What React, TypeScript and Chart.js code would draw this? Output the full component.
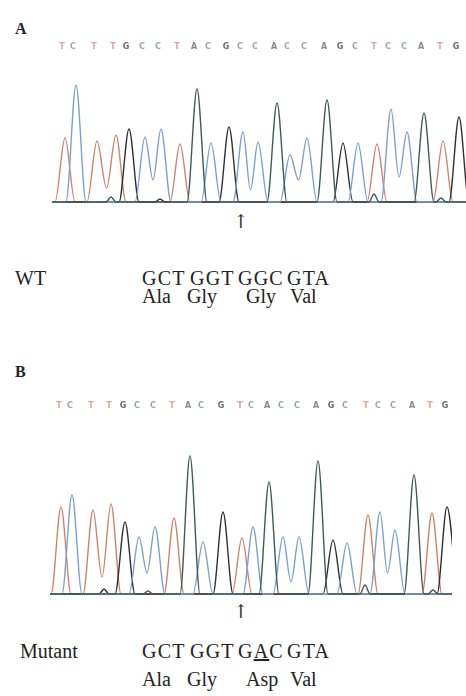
import React, { useEffect, useRef } from "react";
import { Chart, registerables } from "chart.js";

Chart.register(...registerables);

// ---------- Panel A (wild type) ----------
const seqA = ["T","C","T","T","G","C","C","T","A","C","G","C","C","A","C","C","A","G","C","T","C","C","A","T","G"];
const scanA = [65,76,97,116,129,145,161,180,197,211,229,243,258,277,290,307,327,343,358,377,391,407,424,443,459];
const peakA = [64,117,61,67,73,65,73,58,113,59,75,70,60,99,47,64,102,59,59,58,93,70,89,61,85];
const valleyGapA = [2,5,11,14,20];
const valleyHA = [14,22,12,22,25];
const bumpBaseA = ["A","A","A","G"];
const bumpScanA = [111,374,441,160];
const bumpHA = [5,8,4,3];

// ---------- Panel B (mutant) ----------
const seqB = ["T","C","T","T","G","C","C","T","A","C","G","T","C","A","C","C","A","G","C","T","C","C","A","T","G"];
const scanB = [61,72,93,111,125,139,155,174,190,203,223,242,253,269,283,299,318,333,347,368,380,395,414,432,447];
const peakB = [87,99,84,90,72,57,67,76,138,52,82,56,67,112,57,57,133,54,51,79,82,64,119,81,87];
const valleyGapB = [2,5,14,20];
const valleyHB = [17,21,12,21];
const bumpBaseB = ["A","G","A","A"];
const bumpScanB = [365,104,433,148];
const bumpHB = [9,5,4,3];

// ---------- Text ----------
const codonsWT = ["GCT","GGT","GGC","GTA"];
const aminoWT = ["Ala","Gly","Gly","Val"];
const codonsMut = ["GCT","GGT","GAC","GTA"];
const aminoMut = ["Ala","Gly","Asp","Val"];

const BASES = ["A","C","G","T"];
const TRACE_COLOR: Record<string, string> = { A: "#3f5c54", C: "#7d9fd2", G: "#2e2e36", T: "#d0826a" };
const LETTER_COLOR: Record<string, string> = { A: "#8a8a8a", C: "#9aa3bb", G: "#6a6a6a", T: "#dba597" };

type Pt = { x: number; y: number };

function buildTrace(
  base: string, seq: string[], scan: number[], peak: number[],
  gaps: number[], valleys: number[],
  bBase: string[], bScan: number[], bH: number[],
  start: number, end: number
): Pt[] {
  const hw = 10;
  const feats: { x: number; h: number; i: number; w: number }[] = [];
  seq.forEach((b, i) => { if (b === base) feats.push({ x: scan[i], h: peak[i], i, w: hw }); });
  bBase.forEach((b, j) => { if (b === base) feats.push({ x: bScan[j], h: bH[j], i: -1, w: 5 }); });
  feats.sort((a, b) => a.x - b.x);
  const pts: Pt[] = [{ x: start, y: 0 }];
  const joined = (a: any, b: any) => a && b && a.i >= 0 && b.i === a.i + 1 && gaps.includes(a.i);
  feats.forEach((f, k) => {
    const prev = feats[k - 1];
    const next = feats[k + 1];
    if (joined(prev, f)) {
      pts.push({ x: (prev.x + f.x) / 2, y: valleys[gaps.indexOf(prev.i)] });
    } else {
      const lx = Math.max(f.x - f.w, pts[pts.length - 1].x + 0.5);
      pts.push({ x: lx, y: 0 });
    }
    pts.push({ x: f.x, y: f.h });
    if (!joined(f, next)) pts.push({ x: f.x + f.w, y: 0 });
  });
  if (end > pts[pts.length - 1].x) pts.push({ x: end, y: 0 });
  return pts;
}

const letterPlugin = {
  id: "seqLetters",
  afterDatasetsDraw(chart: any, _args: any, opts: any) {
    if (!opts || !opts.letters) return;
    const ctx = chart.ctx;
    const xs = chart.scales.x;
    const ys = chart.scales.y;
    ctx.save();
    ctx.font = "bold 8px 'DejaVu Sans'";
    ctx.textAlign = "center";
    ctx.textBaseline = "middle";
    opts.letters.forEach((l: string, i: number) => {
      ctx.fillStyle = LETTER_COLOR[l];
      ctx.fillText(l, xs.getPixelForValue(opts.scan[i] + opts.offset), ys.getPixelForValue(opts.y));
    });
    ctx.restore();
  },
};

type PanelProps = {
  seq: string[]; scan: number[]; peak: number[]; gaps: number[]; valleys: number[];
  bBase: string[]; bScan: number[]; bH: number[];
  start: number; end: number; xMax: number; yMin: number; yMax: number;
  letterY: number; letterOffset: number;
  width: number; height: number; top: number;
};

function Trace(p: PanelProps) {
  const ref = useRef<HTMLCanvasElement>(null);
  useEffect(() => {
    if (!ref.current) return;
    const datasets = BASES.map((b) => ({
      label: b,
      data: buildTrace(b, p.seq, p.scan, p.peak, p.gaps, p.valleys, p.bBase, p.bScan, p.bH, p.start, p.end),
      showLine: true,
      borderColor: TRACE_COLOR[b],
      borderWidth: 1.4,
      pointRadius: 0,
      fill: false,
      cubicInterpolationMode: "monotone" as const,
    }));
    const chart = new Chart(ref.current, {
      type: "scatter",
      data: { datasets },
      options: {
        responsive: false,
        animation: false,
        events: [],
        layout: { padding: 0 },
        scales: {
          x: { type: "linear", display: false, min: 0, max: p.xMax },
          y: { type: "linear", display: false, min: p.yMin, max: p.yMax },
        },
        plugins: {
          legend: { display: false },
          tooltip: { enabled: false },
          seqLetters: { letters: p.seq, scan: p.scan, y: p.letterY, offset: p.letterOffset },
        } as any,
      },
      plugins: [letterPlugin],
    });
    return () => chart.destroy();
  }, []);
  return (
    <canvas
      ref={ref}
      width={p.width}
      height={p.height}
      style={{ position: "absolute", left: 0, top: p.top, width: p.width, height: p.height }}
    />
  );
}

const serif = "'Liberation Serif', 'Times New Roman', serif";
const codonLeft = [142, 190, 238, 287];
const aminoLeft = [142, 187, 246, 290];

function T(props: { left: number; top: number; size: number; bold?: boolean; children: any; ls?: number }) {
  return (
    <div
      style={{
        position: "absolute", left: props.left, top: props.top, fontFamily: serif,
        fontSize: props.size, lineHeight: 1, fontWeight: props.bold ? 700 : 400,
        color: "#222", whiteSpace: "nowrap", letterSpacing: props.ls ?? 0,
      }}
    >
      {props.children}
    </div>
  );
}

const arrowStyle = (top: number): React.CSSProperties => ({
  position: "absolute", left: 233, top, fontFamily: "'DejaVu Serif'", fontSize: 19,
  lineHeight: 1, color: "#333",
});

export default function App() {
  return (
    <div style={{ position: "absolute", left: 0, top: 0, width: 466, height: 696, background: "#fff", overflow: "hidden" }}>
      <T left={15} top={21} size={16} bold>A</T>
      <Trace
        seq={seqA} scan={scanA} peak={peakA} gaps={valleyGapA} valleys={valleyHA}
        bBase={bumpBaseA} bScan={bumpScanA} bH={bumpHA}
        start={52} end={472} xMax={466} yMin={-8} yMax={167}
        letterY={155} letterOffset={-3}
        width={466} height={175} top={35}
      />
      <div style={arrowStyle(212)}>↑</div>
      <T left={15} top={268} size={20}>WT</T>
      {codonsWT.map((c, i) => <T key={"cw" + i} left={codonLeft[i]} top={268} size={20} ls={1.2}>{c}</T>)}
      {aminoWT.map((a, i) => <T key={"aw" + i} left={aminoLeft[i]} top={286} size={20}>{a}</T>)}

      <T left={15} top={364} size={16} bold>B</T>
      <Trace
        seq={seqB} scan={scanB} peak={peakB} gaps={valleyGapB} valleys={valleyHB}
        bBase={bumpBaseB} bScan={bumpScanB} bH={bumpHB}
        start={50} end={452} xMax={452} yMin={-6} yMax={199}
        letterY={188} letterOffset={-2}
        width={452} height={205} top={395}
      />
      <div style={arrowStyle(602)}>↑</div>
      <T left={20} top={641} size={20}>Mutant</T>
      {codonsMut.map((c, i) => (
        <T key={"cm" + i} left={codonLeft[i]} top={641} size={20} ls={1.2}>
          {i === 2 ? (<span>G<span style={{ textDecoration: "underline" }}>A</span>C</span>) : c}
        </T>
      ))}
      {aminoMut.map((a, i) => <T key={"am" + i} left={aminoLeft[i]} top={669} size={20}>{a}</T>)}
    </div>
  );
}
